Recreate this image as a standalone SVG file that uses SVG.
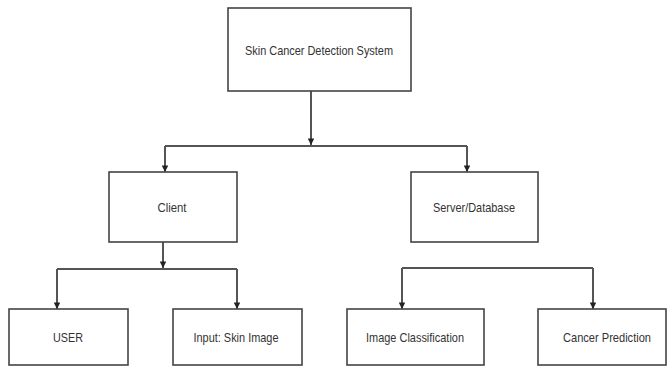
<svg xmlns="http://www.w3.org/2000/svg" width="671" height="367" viewBox="0 0 671 367">
<style>
.box{fill:#fff;stroke:#444;stroke-width:1.6}
.t{font-family:"Liberation Sans",Arial,sans-serif;font-size:13px;fill:#333;text-anchor:middle}
.c{fill:none;stroke:#555;stroke-width:2}
</style>
<defs>
<marker id="ah" viewBox="0 0 10 10" refX="10" refY="5" markerWidth="7" markerHeight="6.5" orient="auto" markerUnits="userSpaceOnUse">
<path d="M0,0 L10,5 L0,10 z" fill="#222"/>
</marker>
</defs>
<rect width="671" height="367" fill="#fff"/>
<g id="connectors">
<path class="c" d="M311,91 V145" marker-end="url(#ah)"/>
<path class="c" d="M165,146 H467"/>
<path class="c" d="M165,146 V172" marker-end="url(#ah)"/>
<path class="c" d="M467,146 V172" marker-end="url(#ah)"/>
<path class="c" d="M163,242 V268" marker-end="url(#ah)"/>
<path class="c" d="M57,269 H237"/>
<path class="c" d="M57,269 V309" marker-end="url(#ah)"/>
<path class="c" d="M237,269 V309" marker-end="url(#ah)"/>
<path class="c" d="M402,268 H593"/>
<path class="c" d="M402,268 V309" marker-end="url(#ah)"/>
<path class="c" d="M593,268 V309" marker-end="url(#ah)"/>
</g>
<g id="top"><rect class="box" x="228" y="8" width="183" height="83"/><text class="t" x="319" y="55" textLength="148" lengthAdjust="spacingAndGlyphs">Skin Cancer Detection System</text></g>
<g id="client"><rect class="box" x="109" y="172" width="128" height="70"/><text class="t" x="172" y="212" textLength="29" lengthAdjust="spacingAndGlyphs">Client</text></g>
<g id="server"><rect class="box" x="411" y="172" width="127" height="70"/><text class="t" x="474" y="212" textLength="82" lengthAdjust="spacingAndGlyphs">Server/Database</text></g>
<g id="user"><rect class="box" x="9" y="309" width="119" height="56"/><text class="t" x="68" y="342" textLength="30" lengthAdjust="spacingAndGlyphs">USER</text></g>
<g id="input"><rect class="box" x="173" y="309" width="129" height="56"/><text class="t" x="236" y="342" textLength="85" lengthAdjust="spacingAndGlyphs">Input: Skin Image</text></g>
<g id="classification"><rect class="box" x="347" y="309" width="137" height="56"/><text class="t" x="415" y="342" textLength="98" lengthAdjust="spacingAndGlyphs">Image Classification</text></g>
<g id="prediction"><rect class="box" x="538" y="309" width="128" height="56"/><text class="t" x="607" y="342" textLength="88" lengthAdjust="spacingAndGlyphs">Cancer Prediction</text></g>
</svg>
